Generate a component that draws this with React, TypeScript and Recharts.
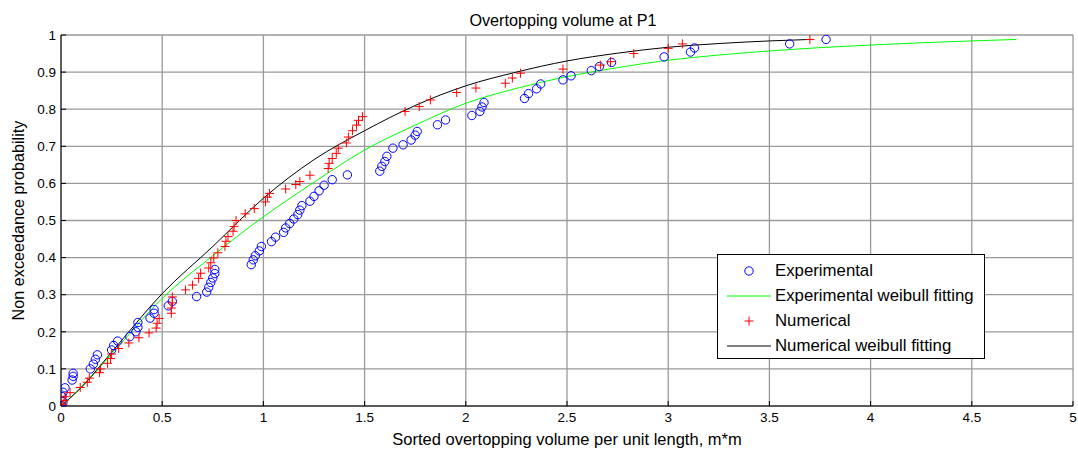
import { ComposedChart, Scatter, Line, XAxis, YAxis, CartesianGrid, Legend } from 'recharts';

const FONT = '"Liberation Sans", Arial, sans-serif';

const xTicks = [0, 0.5, 1, 1.5, 2, 2.5, 3, 3.5, 4, 4.5, 5];
const yTicks = [0, 0.1, 0.2, 0.3, 0.4, 0.5, 0.6, 0.7, 0.8, 0.9, 1];

// Experimental (blue circles)
const expX = [0.005, 0.01, 0.005, 0.01, 0.02, 0.055, 0.06, 0.06, 0.145, 0.16, 0.17, 0.18, 0.25, 0.26, 0.28, 0.34, 0.37, 0.38, 0.38, 0.44, 0.46, 0.46, 0.53, 0.55, 0.67, 0.72, 0.73, 0.74, 0.75, 0.76, 0.76, 0.94, 0.95, 0.96, 0.98, 0.99, 1.04, 1.06, 1.1, 1.11, 1.13, 1.15, 1.17, 1.18, 1.19, 1.23, 1.25, 1.275, 1.3, 1.34, 1.415, 1.575, 1.585, 1.6, 1.61, 1.64, 1.69, 1.73, 1.75, 1.76, 1.86, 1.9, 2.03, 2.07, 2.08, 2.09, 2.29, 2.31, 2.35, 2.37, 2.48, 2.52, 2.62, 2.66, 2.72, 2.98, 3.11, 3.13, 3.6, 3.78];
const expY = [0.0, 0.012, 0.025, 0.037, 0.049, 0.07, 0.08, 0.088, 0.1, 0.113, 0.126, 0.138, 0.151, 0.163, 0.175, 0.187, 0.2, 0.212, 0.225, 0.237, 0.25, 0.26, 0.27, 0.282, 0.295, 0.307, 0.32, 0.333, 0.345, 0.357, 0.368, 0.381, 0.394, 0.405, 0.418, 0.43, 0.443, 0.455, 0.468, 0.48, 0.492, 0.504, 0.516, 0.528, 0.54, 0.552, 0.565, 0.58, 0.595, 0.61, 0.623, 0.633, 0.646, 0.659, 0.673, 0.695, 0.704, 0.717, 0.73, 0.74, 0.758, 0.771, 0.783, 0.794, 0.806, 0.818, 0.829, 0.842, 0.855, 0.868, 0.879, 0.89, 0.904, 0.915, 0.926, 0.941, 0.954, 0.965, 0.976, 0.988];

// Numerical (red pluses)
const numX = [0.01, 0.015, 0.02, 0.045, 0.095, 0.13, 0.14, 0.19, 0.195, 0.23, 0.245, 0.25, 0.285, 0.335, 0.385, 0.435, 0.47, 0.475, 0.485, 0.545, 0.545, 0.55, 0.55, 0.615, 0.65, 0.68, 0.69, 0.73, 0.74, 0.755, 0.775, 0.81, 0.815, 0.825, 0.85, 0.855, 0.865, 0.91, 0.955, 1.01, 1.02, 1.03, 1.11, 1.16, 1.18, 1.23, 1.32, 1.325, 1.34, 1.36, 1.37, 1.41, 1.42, 1.44, 1.46, 1.47, 1.49, 1.7, 1.77, 1.825, 1.955, 2.05, 2.195, 2.23, 2.27, 2.48, 2.665, 2.715, 2.83, 3.0, 3.07, 3.7];
const numY = [0.005, 0.015, 0.025, 0.036, 0.05, 0.064, 0.075, 0.09, 0.1, 0.115, 0.128, 0.14, 0.155, 0.17, 0.184, 0.197, 0.21, 0.223, 0.236, 0.25, 0.264, 0.278, 0.294, 0.313, 0.326, 0.344, 0.358, 0.372, 0.386, 0.399, 0.413, 0.43, 0.444, 0.457, 0.471, 0.484, 0.5, 0.518, 0.532, 0.55, 0.563, 0.573, 0.585, 0.597, 0.605, 0.622, 0.64, 0.654, 0.667, 0.681, 0.695, 0.709, 0.725, 0.742, 0.757, 0.77, 0.78, 0.794, 0.807, 0.825, 0.845, 0.857, 0.87, 0.884, 0.897, 0.908, 0.919, 0.928, 0.95, 0.964, 0.976, 0.988];

// Experimental weibull fitting (green)
const expFitX = [0, 0.1, 0.25, 0.5, 0.75, 1, 1.25, 1.5, 1.75, 2, 2.25, 2.5, 2.75, 3, 3.25, 3.5, 3.75, 4, 4.25, 4.5, 4.72];
const expFitY = [0, 0.05, 0.14, 0.29, 0.405, 0.51, 0.603, 0.69, 0.757, 0.816, 0.856, 0.888, 0.912, 0.932, 0.946, 0.957, 0.966, 0.973, 0.979, 0.984, 0.988];

// Numerical weibull fitting (black)
const numFitX = [0, 0.1, 0.25, 0.5, 0.75, 1, 1.25, 1.5, 1.75, 2, 2.25, 2.5, 2.75, 3, 3.25, 3.5, 3.7];
const numFitY = [0, 0.05, 0.145, 0.303, 0.43, 0.56, 0.664, 0.742, 0.81, 0.863, 0.9, 0.93, 0.951, 0.967, 0.977, 0.984, 0.988];

const expData = expX.map((x, i) => ({ x, y: expY[i] }));
const numData = numX.map((x, i) => ({ x, y: numY[i] }));
const expFit = expFitX.map((x, i) => ({ x, y: expFitY[i] }));
const numFit = numFitX.map((x, i) => ({ x, y: numFitY[i] }));

const CircleMark = (props: any) => (
  <circle cx={props.cx} cy={props.cy} r={4.2} fill="none" stroke="#0000ff" strokeWidth={1} />
);

const PlusMark = (props: any) => {
  const { cx, cy } = props;
  return (
    <path d={`M${cx - 4.5},${cy}H${cx + 4.5}M${cx},${cy - 4.5}V${cy + 4.5}`} stroke="#ff0000" strokeWidth={1} fill="none" />
  );
};

const legendItems = [
  { label: 'Experimental', kind: 'circle' },
  { label: 'Experimental weibull fitting', kind: 'green' },
  { label: 'Numerical', kind: 'plus' },
  { label: 'Numerical weibull fitting', kind: 'black' },
];

function LegendBox() {
  return (
    <div
      style={{
        width: 268,
        height: 105,
        border: '1px solid #000',
        background: '#fff',
        fontFamily: FONT,
        fontSize: 16.8,
        color: '#000',
        paddingTop: 3,
        boxSizing: 'border-box',
      }}
    >
      {legendItems.map((it) => (
        <div key={it.label} style={{ display: 'flex', alignItems: 'center', height: 25 }}>
          <svg width={57} height={20} style={{ flex: 'none' }}>
            {it.kind === 'circle' && <circle cx={31} cy={10} r={4.2} fill="none" stroke="#0000ff" />}
            {it.kind === 'plus' && <path d="M26.5,10H35.5M31,5.5V14.5" stroke="#ff0000" />}
            {it.kind === 'green' && <line x1={9} x2={53} y1={10} y2={10} stroke="#00ff00" />}
            {it.kind === 'black' && <line x1={9} x2={53} y1={10} y2={10} stroke="#000" />}
          </svg>
          <span style={{ whiteSpace: 'nowrap' }}>{it.label}</span>
        </div>
      ))}
    </div>
  );
}

export default function App() {
  return (
    <div style={{ position: 'fixed', left: 0, top: 0, width: 1078, height: 454, background: '#fff' }}>
      <div
        style={{
          position: 'absolute',
          left: 463,
          width: 200,
          top: 11,
          textAlign: 'center',
          fontFamily: FONT,
          fontSize: 16.2,
          lineHeight: '18px',
          color: '#000',
        }}
      >
        Overtopping volume at P1
      </div>
      <ComposedChart width={1078} height={454} margin={{ top: 35, right: 5, bottom: 0, left: 0 }}>
        <CartesianGrid stroke="#9a9a9a" strokeWidth={1.3} />
        <XAxis
          type="number"
          dataKey="x"
          domain={[0, 5]}
          ticks={xTicks}
          interval={0}
          allowDataOverflow
          height={48}
          stroke="#000"
          tickSize={-5}
          tickMargin={11}
          tick={{ fill: '#000', fontSize: 13.5, fontFamily: FONT }}
          label={{
            value: 'Sorted overtopping volume per unit length, m*m',
            position: 'insideBottom',
            offset: 9,
            style: { fill: '#000', fontSize: 16.5, fontFamily: FONT },
          }}
        />
        <XAxis
          xAxisId="top"
          orientation="top"
          type="number"
          domain={[0, 5]}
          ticks={xTicks}
          interval={0}
          height={0}
          stroke="#000"
          tickSize={-5}
          tick={false}
        />
        <YAxis
          type="number"
          domain={[0, 1]}
          ticks={yTicks}
          interval={0}
          allowDataOverflow
          width={61}
          stroke="#000"
          tickSize={-5}
          tickMargin={10}
          tick={{ fill: '#000', fontSize: 13.5, fontFamily: FONT }}
          label={{
            value: 'Non exceedance probability',
            angle: -90,
            position: 'insideLeft',
            offset: 18,
            style: { fill: '#000', fontSize: 16.2, fontFamily: FONT, textAnchor: 'middle' },
          }}
        />
        <YAxis
          yAxisId="right"
          orientation="right"
          type="number"
          domain={[0, 1]}
          ticks={yTicks}
          interval={0}
          width={0}
          stroke="#000"
          tickSize={-5}
          tick={false}
        />
        <Scatter data={expData} dataKey="y" shape={<CircleMark />} isAnimationActive={false} />
        <Line data={expFit} dataKey="y" type="monotone" stroke="#00ff00" strokeWidth={1} dot={false} activeDot={false} isAnimationActive={false} />
        <Scatter data={numData} dataKey="y" shape={<PlusMark />} isAnimationActive={false} />
        <Line data={numFit} dataKey="y" type="monotone" stroke="#000000" strokeWidth={1} dot={false} activeDot={false} isAnimationActive={false} />
        <Legend
          layout="horizontal"
          verticalAlign="middle"
          align="center"
          content={() => <LegendBox />}
          wrapperStyle={{ position: 'absolute', left: 717, top: 254, width: 269, height: 105 }}
        />
      </ComposedChart>
    </div>
  );
}
